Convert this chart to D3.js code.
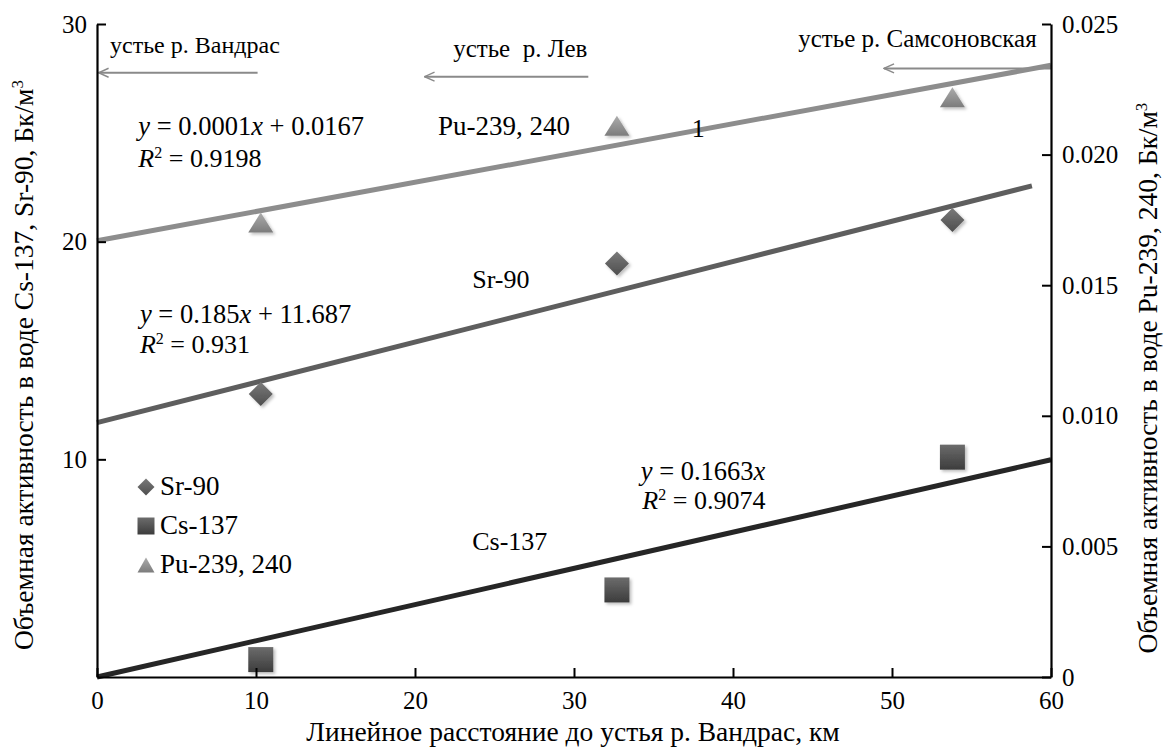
<!DOCTYPE html>
<html>
<head>
<meta charset="utf-8">
<script src="https://cdn.jsdelivr.net/npm/d3@7"></script>
<style>
  body { margin: 0; background: #fff; }
</style>
</head>
<body>
<div id="chart"></div>
<script>
const width = 1167, height = 747;
const serif = "'Liberation Serif'";

// distances from the mouth of the Vandras, km
const distances = [10.3, 32.7, 53.8];
// Cs-137 and Sr-90, Bq/m3 (left axis)
const cs137 = [0.8, 4.0, 10.1];
const sr90 = [13.0, 19.0, 21.0];
// Pu-239,240, Bq/m3 (right axis)
const pu239 = [0.0174, 0.0211, 0.0222];

// trend lines: [slope, intercept, xFrom, xTo]
const trendCs = [0.1663, 0, 0, 60];
const trendSr = [0.185, 11.687, 0, 58.8];
const trendPu = [0.000112, 0.0167, 0, 60];

// river mouths, km
const mouths = [20.3, 49.2];

const xTicks = [0, 10, 20, 30, 40, 50, 60];
const yLeftTicks = [10, 20, 30];
const yRightTicks = [0, 0.005, 0.010, 0.015, 0.020, 0.025];

const pLeft = 97, pRight = 1051, pTop = 24, pBottom = 677;

const x = d3.scaleLinear().domain([0, 60]).range([pLeft, pRight]);
const yL = d3.scaleLinear().domain([0, 30]).range([pBottom, pTop]);
const yR = d3.scaleLinear().domain([0, 0.025]).range([pBottom, pTop]);

const svg = d3.select("#chart").append("svg")
    .attr("width", width)
    .attr("height", height);

function label(px, py, size, str) {
  return svg.append("text")
      .attr("x", px).attr("y", py)
      .attr("font-family", serif)
      .attr("font-size", size)
      .attr("fill", "#000")
      .text(str);
}

const defs = svg.append("defs");
function grad(id, c1, c2) {
  const g = defs.append("linearGradient").attr("id", id)
      .attr("x1", 0).attr("y1", 0).attr("x2", 0).attr("y2", 1);
  g.append("stop").attr("offset", "0%").attr("stop-color", c1);
  g.append("stop").attr("offset", "100%").attr("stop-color", c2);
}
grad("gSq", "#6c6c6c", "#3c3c3c");
grad("gDi", "#7a7a7a", "#4e4e4e");
grad("gTr", "#acacac", "#7c7c7c");

const shadow = defs.append("filter").attr("id", "shadow")
    .attr("x", "-30%").attr("y", "-30%").attr("width", "160%").attr("height", "160%");
shadow.append("feDropShadow").attr("dx", 2).attr("dy", 2)
    .attr("stdDeviation", 1.5).attr("flood-color", "#000").attr("flood-opacity", 0.25);

// vertical dashed lines at river mouths
svg.selectAll(".mouth")
  .data(mouths)
  .enter().append("line")
    .attr("class", "mouth")
    .attr("x1", d => x(d)).attr("x2", d => x(d))
    .attr("y1", yL(28.6)).attr("y2", pBottom)
    .attr("stroke", "#8a8a8a")
    .attr("stroke-width", 1.3)
    .attr("stroke-dasharray", "5,3")
    .attr("filter", "url(#shadow)");

// arrows
defs.append("marker").attr("id", "arrow")
    .attr("viewBox", "0 0 12 12").attr("refX", 1).attr("refY", 6)
    .attr("markerWidth", 12).attr("markerHeight", 12)
    .attr("orient", "auto")
    .attr("markerUnits", "userSpaceOnUse")
  .append("path")
    .attr("d", "M11,1.5 L1,6 L11,10.5")
    .attr("fill", "none").attr("stroke", "#8a8a8a").attr("stroke-width", 1.4);

const arrows = [
  {from: 10.1, to: 0.1, y: 27.76},
  {from: 30.9, to: 20.6, y: 27.58},
  {from: 60, to: 49.5, y: 27.96}
];
svg.selectAll(".arrow")
  .data(arrows)
  .enter().append("line")
    .attr("x1", d => x(d.to)).attr("x2", d => x(d.from))
    .attr("y1", d => yL(d.y)).attr("y2", d => yL(d.y))
    .attr("stroke", "#8a8a8a").attr("stroke-width", 2)
    .attr("marker-start", "url(#arrow)");

label(x(0.82), yL(28.66), 24, "устье р. Вандрас");
label(x(22.4), yL(28.48), 25, "устье  р. Лев").attr("xml:space", "preserve");
label(x(59.1), yL(28.95), 25, "устье р. Самсоновская").attr("text-anchor", "end");

// trend lines
const line = d3.line();
function trendPath(t, y) {
  return line([[x(t[2]), y(t[0] * t[2] + t[1])], [x(t[3]), y(t[0] * t[3] + t[1])]]);
}
svg.append("path").attr("d", trendPath(trendPu, yR))
    .attr("stroke", "#8d8d8d").attr("stroke-width", 5).attr("fill", "none");
svg.append("path").attr("d", trendPath(trendSr, yL))
    .attr("stroke", "#5e5e5e").attr("stroke-width", 5).attr("fill", "none");
svg.append("path").attr("d", trendPath(trendCs, yL))
    .attr("stroke", "#262626").attr("stroke-width", 5).attr("fill", "none");

// markers
const square = s => `M${-s/2},${-s/2}h${s}v${s}h${-s}Z`;
const diamond = s => `M0,${-s/2}L${s/2},0L0,${s/2}L${-s/2},0Z`;
const triangle = (w, h) => `M0,${-h/2}L${w/2},${h/2}L${-w/2},${h/2}Z`;

svg.selectAll(".sr")
  .data(distances.map((d, i) => [d, sr90[i]]))
  .enter().append("path")
    .attr("d", diamond(24))
    .attr("transform", d => `translate(${x(d[0])},${yL(d[1])})`)
    .attr("fill", "url(#gDi)").attr("filter", "url(#shadow)");

svg.selectAll(".cs")
  .data(distances.map((d, i) => [d, cs137[i]]))
  .enter().append("path")
    .attr("d", square(25))
    .attr("transform", d => `translate(${x(d[0])},${yL(d[1])})`)
    .attr("fill", "url(#gSq)").attr("filter", "url(#shadow)");

svg.selectAll(".pu")
  .data(distances.map((d, i) => [d, pu239[i]]))
  .enter().append("path")
    .attr("d", triangle(25, 20))
    .attr("transform", d => `translate(${x(d[0])},${yR(d[1])})`)
    .attr("fill", "url(#gTr)").attr("filter", "url(#shadow)");

// axes
const xAxis = d3.axisBottom(x).tickValues(xTicks).tickSizeInner(-9).tickSizeOuter(0).tickPadding(14);
const yAxisL = d3.axisLeft(yL).tickValues(yLeftTicks).tickSizeInner(-9).tickSizeOuter(0).tickPadding(10);
const yAxisR = d3.axisRight(yR).tickValues(yRightTicks).tickSizeInner(-9).tickSizeOuter(0).tickPadding(11)
    .tickFormat(d => d === 0 ? "0" : d3.format(".3f")(d));

function styleAxis(g) {
  g.attr("font-family", serif).attr("font-size", 25);
  g.select(".domain").attr("stroke", "#000").attr("stroke-width", 2.2);
  g.selectAll(".tick line").attr("stroke", "#000").attr("stroke-width", 2);
  g.selectAll(".tick text").attr("fill", "#000");
}
svg.append("g").attr("transform", `translate(0,${pBottom})`).call(xAxis).call(styleAxis);
svg.append("g").attr("transform", `translate(${pLeft},0)`).call(yAxisL).call(styleAxis);
svg.append("g").attr("transform", `translate(${pRight},0)`).call(yAxisR).call(styleAxis);

// axis titles
label(0, 0, 27.5, "Линейное расстояние до устья р. Вандрас, км")
    .attr("transform", `translate(573,${pBottom + 64})`)
    .attr("text-anchor", "middle");

const tl = label(0, 0, 27.5, null)
    .attr("transform", `translate(33,365) rotate(-90)`)
    .attr("text-anchor", "middle");
tl.append("tspan").text("Объемная активность в воде Cs-137, Sr-90, Бк/м");
tl.append("tspan").attr("dy", -10).attr("font-size", 17).text("3");

const tr = label(0, 0, 27.5, null)
    .attr("transform", `translate(1157,378) rotate(-90)`)
    .attr("text-anchor", "middle");
tr.append("tspan").text("Объемная активность в воде Pu-239, 240, Бк/м");
tr.append("tspan").attr("dy", -10).attr("font-size", 17).text("3");

// equations
function equation(px, yBase, a, b) {
  const t1 = label(px, yBase, 26.5, null);
  t1.append("tspan").attr("font-style", "italic").text("y");
  t1.append("tspan").text(" = " + a);
  t1.append("tspan").attr("font-style", "italic").text("x");
  if (b) t1.append("tspan").text(" + " + b);
}
function rsq(px, yBase, r) {
  const t2 = label(px, yBase + 0.5, 26, null);
  t2.append("tspan").attr("font-style", "italic").text("R");
  t2.append("tspan").attr("dy", -9).attr("font-size", 16).text("2");
  t2.append("tspan").attr("dy", 9).text(" = " + r);
}
equation(x(2.6), yL(24.9), "0.0001", "0.0167");
rsq(x(2.6), yL(23.44), "0.9198");
equation(x(2.7), yL(16.26), "0.185", "11.687");
rsq(x(2.7), yL(14.93), "0.931");
equation(x(34.2), yL(9.05), "0.1663", null);
rsq(x(34.3), yL(7.76), "0.9074");

// series labels
label(x(21.45), yL(24.9), 27, "Pu-239, 240");
label(x(37.4), yL(24.8), 26, "1");
label(x(23.6), yL(17.87), 26, "Sr-90");
label(x(23.6), yL(5.83), 26, "Cs-137");

// legend
const legendItems = ["Sr-90", "Cs-137", "Pu-239, 240"];
const legendShapes = [diamond(17), square(17), triangle(17, 15)];
const legendFills = ["url(#gDi)", "url(#gSq)", "url(#gTr)"];
const legend = svg.append("g").attr("transform", "translate(146,487)");
const items = legend.selectAll("g")
  .data(legendItems)
  .enter().append("g")
    .attr("transform", (d, i) => `translate(0,${i * 39})`);
items.append("path").attr("d", (d, i) => legendShapes[i]).attr("fill", (d, i) => legendFills[i]);
items.append("text").attr("x", 14).attr("y", 8)
    .attr("font-family", serif).attr("font-size", 27).attr("fill", "#000")
    .text(d => d);
</script>
</body>
</html>
